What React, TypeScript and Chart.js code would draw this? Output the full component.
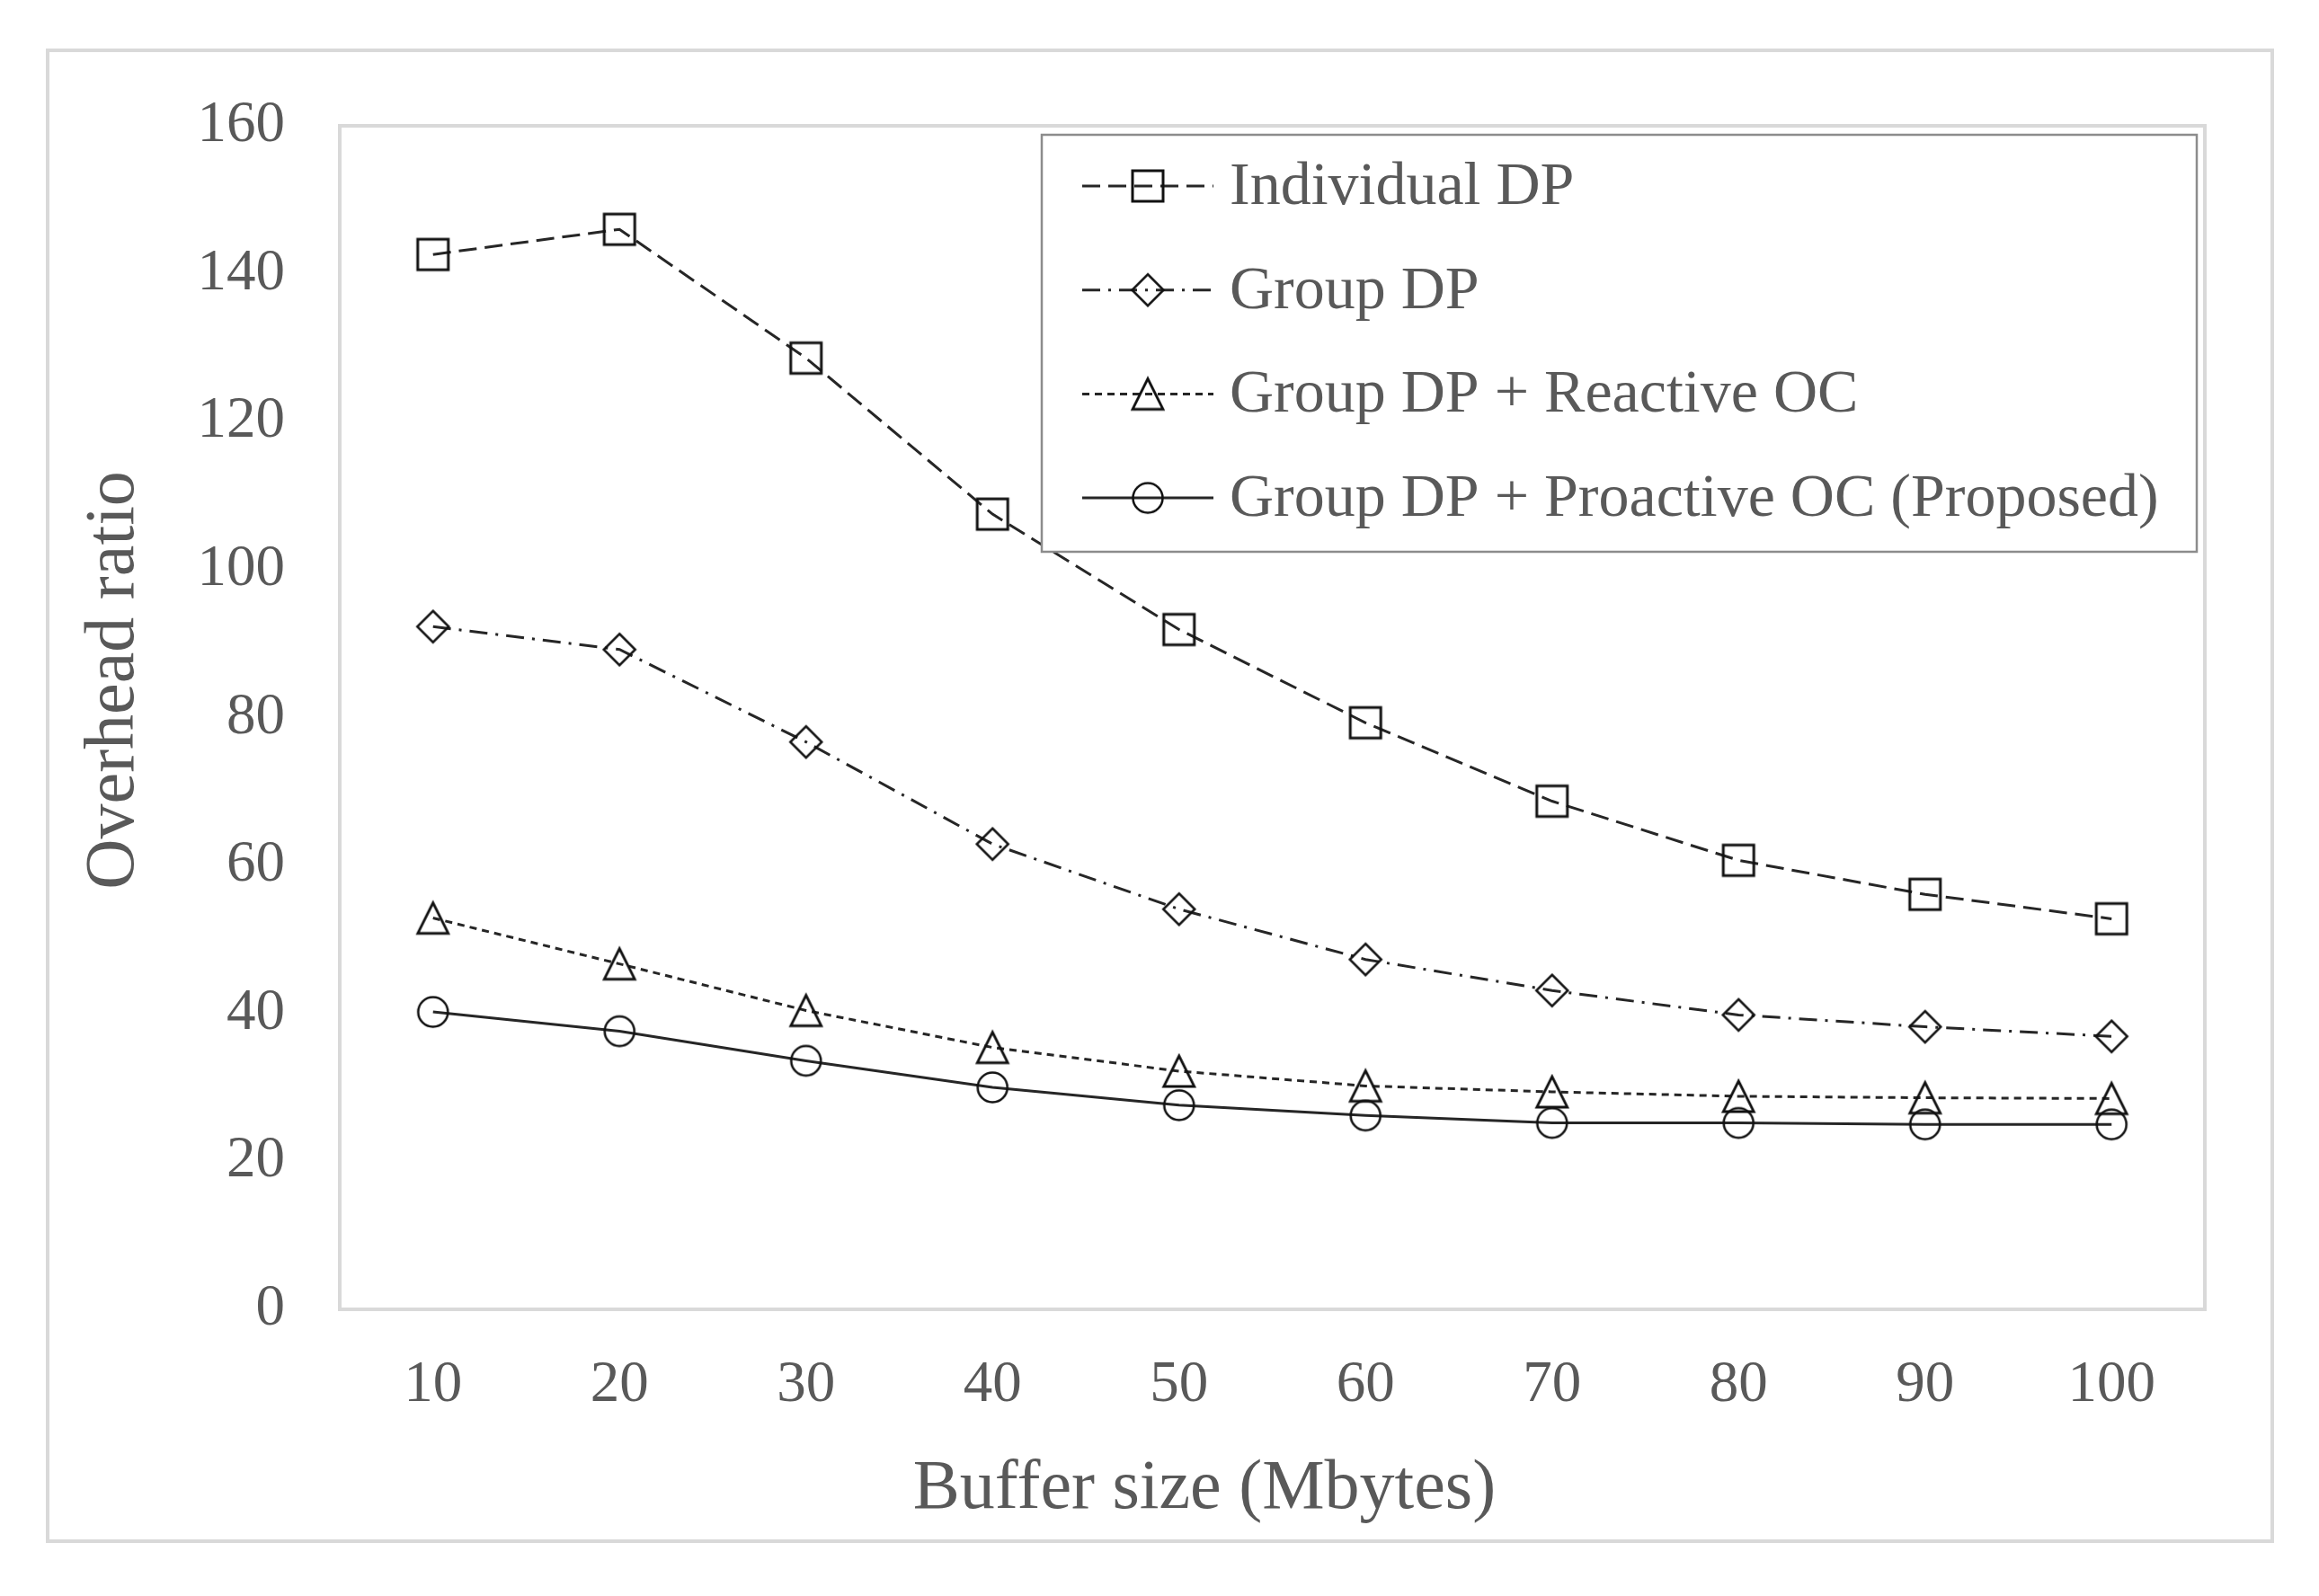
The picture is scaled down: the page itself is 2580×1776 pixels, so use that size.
import React, { useEffect, useRef } from 'react';
import { Chart, registerables } from 'chart.js';

Chart.register(...registerables);

const bufferSizes = ['10', '20', '30', '40', '50', '60', '70', '80', '90', '100'];
const individualDP = [142.6, 146.0, 128.6, 107.5, 91.9, 79.3, 68.7, 60.7, 56.1, 52.8];
const groupDP = [92.3, 89.2, 76.7, 62.9, 54.1, 47.3, 43.1, 39.8, 38.2, 36.9];
const groupDPReactiveOC = [52.9, 46.7, 40.4, 35.4, 32.2, 30.2, 29.4, 28.8, 28.6, 28.5];
const groupDPProactiveOC = [40.2, 37.6, 33.6, 30.0, 27.6, 26.2, 25.2, 25.2, 25.0, 25.0];
const seriesNames = [
  'Individual DP',
  'Group DP',
  'Group DP + Reactive OC',
  'Group DP + Proactive OC (Proposed)',
];
const yMin = 0;
const yMax = 160;
const yStep = 20;
const xTitle = 'Buffer size (Mbytes)';
const yTitle = 'Overhead ratio';

const FONT = "'Liberation Serif', 'Times New Roman', serif";
const TEXT = '#595959';
const LINE = '#262626';
const FRAME = '#d9d9d9';

function makeMarker(kind: string): HTMLCanvasElement {
  const c = document.createElement('canvas');
  c.width = 44;
  c.height = 44;
  const g = c.getContext('2d') as CanvasRenderingContext2D;
  g.strokeStyle = '#111111';
  g.lineWidth = 3;
  g.beginPath();
  if (kind === 'square') {
    g.rect(5, 5, 34, 34);
  } else if (kind === 'diamond') {
    g.lineWidth = 2.5;
    g.moveTo(22, 4.5);
    g.lineTo(39.5, 22);
    g.lineTo(22, 39.5);
    g.lineTo(4.5, 22);
    g.closePath();
  } else if (kind === 'triangle') {
    g.lineWidth = 2.8;
    g.moveTo(22, 5);
    g.lineTo(39, 39);
    g.lineTo(5, 39);
    g.closePath();
  } else {
    g.lineWidth = 2.5;
    g.arc(22, 22, 16.5, 0, Math.PI * 2);
  }
  g.stroke();
  return c;
}

const decorPlugin = {
  id: 'decor',
  beforeDraw(chart: any) {
    const ctx = chart.ctx as CanvasRenderingContext2D;
    ctx.save();
    ctx.fillStyle = '#ffffff';
    ctx.fillRect(0, 0, chart.width, chart.height);
    ctx.restore();
  },
  beforeDatasetsDraw(chart: any) {
    const ctx = chart.ctx as CanvasRenderingContext2D;
    const a = chart.chartArea;
    ctx.save();
    ctx.strokeStyle = FRAME;
    ctx.lineWidth = 4;
    ctx.strokeRect(a.left, a.top, a.right - a.left, a.bottom - a.top);
    ctx.restore();
  },
  afterDatasetsDraw(chart: any) {
    const ctx = chart.ctx as CanvasRenderingContext2D;
    ctx.save();
    const bx = 1159, by = 150, bw = 2444 - 1159, bh = 614 - 150;
    ctx.fillStyle = '#ffffff';
    ctx.fillRect(bx, by, bw, bh);
    ctx.strokeStyle = '#8c8c8c';
    ctx.lineWidth = 2.5;
    ctx.strokeRect(bx, by, bw, bh);
    chart.data.datasets.forEach((ds: any, i: number) => {
      const y = 207 + i * 115.7;
      ctx.save();
      ctx.strokeStyle = ds.borderColor;
      ctx.lineWidth = ds.borderWidth;
      ctx.setLineDash(ds.borderDash || []);
      ctx.beginPath();
      ctx.moveTo(1204, y);
      ctx.lineTo(1350, y);
      ctx.stroke();
      ctx.restore();
      const m = ds.pointStyle as HTMLCanvasElement;
      ctx.drawImage(m, 1277 - m.width / 2, y - m.height / 2);
      ctx.fillStyle = TEXT;
      ctx.font = `68px ${FONT}`;
      ctx.textAlign = 'left';
      ctx.textBaseline = 'middle';
      ctx.fillText(ds.label, 1368, y + 2);
    });
    ctx.restore();
  },
  afterDraw(chart: any) {
    const ctx = chart.ctx as CanvasRenderingContext2D;
    ctx.save();
    ctx.strokeStyle = FRAME;
    ctx.lineWidth = 4;
    ctx.strokeRect(53, 56, 2528 - 53, 1715 - 56);
    ctx.fillStyle = TEXT;
    ctx.font = `78px ${FONT}`;
    ctx.textAlign = 'center';
    ctx.textBaseline = 'middle';
    ctx.fillText(xTitle, 1340, 1658);
    ctx.translate(128, 757);
    ctx.rotate(-Math.PI / 2);
    ctx.fillText(yTitle, 0, 0);
    ctx.restore();
  },
};

export default function App() {
  const ref = useRef<HTMLCanvasElement | null>(null);

  useEffect(() => {
    document.body.style.margin = '0';
    document.body.style.overflow = 'hidden';
    const canvas = ref.current;
    if (!canvas) return;
    const styles = [
      { data: individualDP, dash: [20, 9], marker: 'square' },
      { data: groupDP, dash: [20, 9, 3, 9], marker: 'diamond' },
      { data: groupDPReactiveOC, dash: [8, 6], marker: 'triangle' },
      { data: groupDPProactiveOC, dash: [], marker: 'circle' },
    ];
    const chart = new Chart(canvas, {
      type: 'line',
      data: {
        labels: bufferSizes,
        datasets: styles.map((s, i) => ({
          label: seriesNames[i],
          data: s.data,
          borderColor: LINE,
          backgroundColor: 'transparent',
          borderWidth: 3,
          borderDash: s.dash,
          fill: false,
          tension: 0,
          pointStyle: makeMarker(s.marker) as any,
          pointRadius: 17,
          pointHoverRadius: 17,
        })),
      },
      options: {
        animation: false,
        responsive: false,
        devicePixelRatio: 1,
        layout: { padding: { left: 0, top: 140, right: 127, bottom: 0 } },
        plugins: {
          legend: { display: false },
          tooltip: { enabled: false },
          title: { display: false },
        },
        scales: {
          x: {
            type: 'category',
            offset: true,
            grid: { display: false, drawTicks: false },
            border: { display: false },
            ticks: {
              color: TEXT,
              font: { family: FONT, size: 65 },
              padding: 46,
              maxRotation: 0,
              autoSkip: false,
            },
            afterFit: (s: any) => {
              s.height = 319;
            },
          },
          y: {
            min: yMin,
            max: yMax,
            grid: { display: false, drawTicks: false },
            border: { display: false },
            ticks: {
              stepSize: yStep,
              color: TEXT,
              font: { family: FONT, size: 65 },
              padding: 61,
            },
            afterFit: (s: any) => {
              s.width = 378;
            },
          },
        },
      } as any,
      plugins: [decorPlugin as any],
    });
    return () => chart.destroy();
  }, []);

  return (
    <div style={{ position: 'absolute', left: 0, top: 0, width: 2580, height: 1776, background: '#fff' }}>
      <canvas ref={ref} width={2580} height={1776} style={{ display: 'block', width: 2580, height: 1776 }} />
    </div>
  );
}
